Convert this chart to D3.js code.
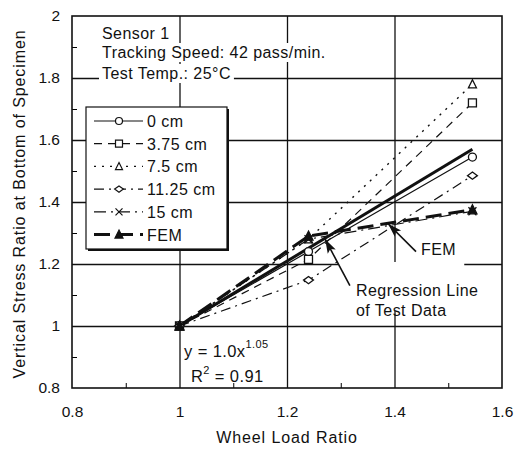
<!DOCTYPE html>
<html>
<head>
<meta charset="utf-8">
<script src="https://cdn.jsdelivr.net/npm/d3@7"></script>
<style>
body { margin: 0; background: #fff; }
svg text { font-family: "Liberation Sans", Arial, sans-serif; fill: #111; }
</style>
</head>
<body>
<div id="chart"></div>
<script>
// values
var loadRatio = [1.0, 1.24, 1.545];
var depth0 = [1.0, 1.24, 1.545];
var depth375 = [1.0, 1.215, 1.72];
var depth75 = [1.0, 1.28, 1.78];
var depth1125 = [1.0, 1.148, 1.485];
var depth15 = [1.0, 1.28, 1.37];
var femVals = [1.0, 1.29, 1.375];
var regX = [1.0, 1.545];
var regY = [1.0, 1.57];
var xTicks = [0.8, 1.0, 1.2, 1.4, 1.6];
var yTicks = [0.8, 1.0, 1.2, 1.4, 1.6, 1.8, 2.0];
var xMinor = [0.9, 1.1, 1.3, 1.5];
var yMinor = [0.9, 1.1, 1.3, 1.5, 1.7, 1.9];

var W = 514, H = 450;
var margin = {left: 72, top: 16, right: 12, bottom: 62};
var w = W - margin.left - margin.right;
var h = H - margin.top - margin.bottom;

var svg = d3.select('#chart').append('svg')
    .attr('width', W)
    .attr('height', H);

var g = svg.append('g')
    .attr('transform', `translate(${margin.left},${margin.top})`);

var x = d3.scaleLinear().domain([0.8, 1.6]).range([0, w]);
var y = d3.scaleLinear().domain([0.8, 2.0]).range([h, 0]);
var fmt = d => String(+d.toFixed(1));

// grid
g.append('g')
    .attr('class', 'grid')
    .attr('transform', `translate(0,${h})`)
    .call(d3.axisBottom(x).tickValues(xTicks.slice(1, -1)).tickSize(-h).tickFormat(''));
g.append('g')
    .attr('class', 'grid')
    .call(d3.axisLeft(y).tickValues(yTicks.slice(1, -1)).tickSize(-w).tickFormat(''));
g.selectAll('.grid .domain').remove();
g.selectAll('.grid line').attr('stroke', '#111').attr('stroke-width', 1.3);

// minor ticks pointing inward
g.append('g')
    .attr('transform', `translate(0,${h})`)
    .call(d3.axisBottom(x).tickValues(xMinor).tickSize(-5).tickFormat(''))
    .call(a => a.select('.domain').remove());
g.append('g')
    .call(d3.axisLeft(y).tickValues(yMinor).tickSize(-5).tickFormat(''))
    .call(a => a.select('.domain').remove());

// tick labels
g.append('g')
    .attr('transform', `translate(0,${h})`)
    .call(d3.axisBottom(x).tickValues(xTicks).tickSize(0).tickPadding(18).tickFormat(fmt))
    .call(a => a.select('.domain').remove())
    .selectAll('text').style('font-size', '15.5px').attr('fill', '#111');
g.append('g')
    .call(d3.axisLeft(y).tickValues(yTicks).tickSize(0).tickPadding(12).tickFormat(fmt))
    .call(a => a.select('.domain').remove())
    .selectAll('text').style('font-size', '15.5px').attr('fill', '#111');

// axis titles
svg.append('text')
    .attr('x', margin.left + w / 2)
    .attr('y', 443)
    .attr('text-anchor', 'middle')
    .style('font-size', '16px')
    .style('letter-spacing', '0.9px')
    .text('Wheel Load Ratio');
svg.append('text')
    .attr('transform', `translate(25,${margin.top + h / 2 + 2})rotate(-90)`)
    .attr('text-anchor', 'middle')
    .style('font-size', '16px')
    .style('letter-spacing', '0.9px')
    .text('Vertical Stress Ratio at Bottom of Specimen');

// text with white background boxes
function label(px, py, str) {
    var t = g.append('text')
        .attr('x', px).attr('y', py)
        .style('font-size', '16px')
        .style('letter-spacing', '0.45px')
        .text(str);
    var b = t.node().getBBox();
    g.insert('rect', () => t.node())
        .attr('x', b.x - 3).attr('y', b.y - 1)
        .attr('width', b.width + 6).attr('height', b.height + 2)
        .attr('fill', '#fff');
    return t;
}

label(30, 23, 'Sensor 1');
label(30, 42, 'Tracking Speed: 42 pass/min.');
label(30, 63, 'Test Temp.: 25\u00B0C');

// regression note block
g.append('rect')
    .attr('x', x(1.5) - 110).attr('y', y(1.1) - 33)
    .attr('width', 126).attr('height', 49)
    .attr('fill', '#fff');
g.append('text').attr('x', 284).attr('y', 280).style('font-size', '16px').style('letter-spacing', '0.45px').text('Regression Line');
g.append('text').attr('x', 284).attr('y', 300).style('font-size', '16px').style('letter-spacing', '0.45px').text('of Test Data');
g.append('text').attr('x', 349).attr('y', 239).style('font-size', '16px').style('letter-spacing', '0.45px').text('FEM');

var eq = g.append('text').attr('x', 112).attr('y', 341).style('font-size', '16.5px').style('letter-spacing', '0.4px');
eq.append('tspan').text('y = 1.0x');
eq.append('tspan').attr('dy', -9).style('font-size', '11px').text('1.05');
var r2 = g.append('text').attr('x', 119).attr('y', 366).style('font-size', '16.5px').style('letter-spacing', '0.4px');
r2.append('tspan').text('R');
r2.append('tspan').attr('dy', -8).style('font-size', '11px').text('2');
r2.append('tspan').attr('dy', 8).text(' = 0.91');

// markers
function markerPath(type, s) {
    if (type === 'circle') return d3.symbol(d3.symbolCircle, Math.PI * s * s / 4)();
    if (type === 'square') return `M${-s/2},${-s/2}H${s/2}V${s/2}H${-s/2}Z`;
    if (type === 'triangle') return `M0,${-s*0.55}L${s*0.5},${s*0.45}L${-s*0.5},${s*0.45}Z`;
    if (type === 'diamond') return `M0,${-s*0.4}L${s*0.55},0L0,${s*0.4}L${-s*0.55},0Z`;
    if (type === 'cross') return `M${-s/2},${-s/2}L${s/2},${s/2}M${s/2},${-s/2}L${-s/2},${s/2}`;
}

var series = [
    {name: '0 cm', vals: depth0, marker: 'circle', dash: null, sw: 1.2, fill: '#fff', size: 8},
    {name: '3.75 cm', vals: depth375, marker: 'square', dash: '8,6', sw: 1.2, fill: '#fff', size: 8},
    {name: '7.5 cm', vals: depth75, marker: 'triangle', dash: '2,6', sw: 1.4, fill: '#fff', size: 8},
    {name: '11.25 cm', vals: depth1125, marker: 'diamond', dash: '10,5,2,5', sw: 1.2, fill: '#fff', size: 9},
    {name: '15 cm', vals: depth15, marker: 'cross', dash: '12,5,2,5', sw: 1.2, fill: 'none', size: 8},
    {name: 'FEM', vals: femVals, marker: 'triangle', dash: '16,7', sw: 3, fill: '#111', size: 9}
];

var line = d3.line().x(d => x(d[0])).y(d => y(d[1]));

// regression line
g.append('path')
    .datum(d3.zip(regX, regY))
    .attr('d', line)
    .attr('fill', 'none')
    .attr('stroke', '#111')
    .attr('stroke-width', 3);

series.forEach(s => {
    var pts = d3.zip(loadRatio, s.vals);
    g.append('path')
        .datum(pts)
        .attr('d', line)
        .attr('fill', 'none')
        .attr('stroke', '#111')
        .attr('stroke-width', s.sw)
        .attr('stroke-dasharray', s.dash);
});
series.forEach(s => {
    var pts = d3.zip(loadRatio, s.vals);
    g.selectAll(null)
        .data(pts)
        .join('path')
        .attr('transform', d => `translate(${x(d[0])},${y(d[1])})`)
        .attr('d', markerPath(s.marker, s.size))
        .attr('fill', s.fill)
        .attr('stroke', '#111')
        .attr('stroke-width', 1.3);
});

// arrows
function arrow(x0, y0, x1, y1) {
    var px0 = x(x0), py0 = y(y0), px1 = x(x1), py1 = y(y1);
    var ang = Math.atan2(py1 - py0, px1 - px0) * 180 / Math.PI;
    g.append('line')
        .attr('x1', px0).attr('y1', py0).attr('x2', px1).attr('y2', py1)
        .attr('stroke', '#111').attr('stroke-width', 1.6);
    g.append('path')
        .attr('d', 'M0,0L-14,-4.5L-11,0L-14,4.5Z')
        .attr('transform', `translate(${px1},${py1})rotate(${ang})`)
        .attr('fill', '#111');
}
arrow(1.44, 1.24, 1.388, 1.33);
arrow(1.317, 1.13, 1.271, 1.28);

// legend
var lg = g.append('g').attr('transform', `translate(14,91)`);
lg.append('rect').attr('x', 2).attr('y', 2).attr('width', 141).attr('height', 142).attr('fill', '#111');
lg.append('rect').attr('x', 0).attr('y', 0).attr('width', 141).attr('height', 142)
    .attr('fill', '#fff').attr('stroke', '#111').attr('stroke-width', 1.2);
series.forEach((s, i) => {
    var ly = 14 + i * 22.7;
    lg.append('line')
        .attr('x1', 8).attr('x2', 57).attr('y1', ly).attr('y2', ly)
        .attr('stroke', '#111').attr('stroke-width', s.sw)
        .attr('stroke-dasharray', s.dash);
    lg.append('path')
        .attr('transform', `translate(33,${ly})`)
        .attr('d', markerPath(s.marker, s.size - 1))
        .attr('fill', s.fill)
        .attr('stroke', '#111')
        .attr('stroke-width', 1.2);
    lg.append('text')
        .attr('x', 61).attr('y', ly + 6)
        .style('font-size', '16px')
        .style('letter-spacing', '0.5px')
        .text(s.name);
});

// frame
g.append('rect')
    .attr('width', w).attr('height', h)
    .attr('fill', 'none')
    .attr('stroke', '#111')
    .attr('stroke-width', 1.6);
</script>
</body>
</html>
